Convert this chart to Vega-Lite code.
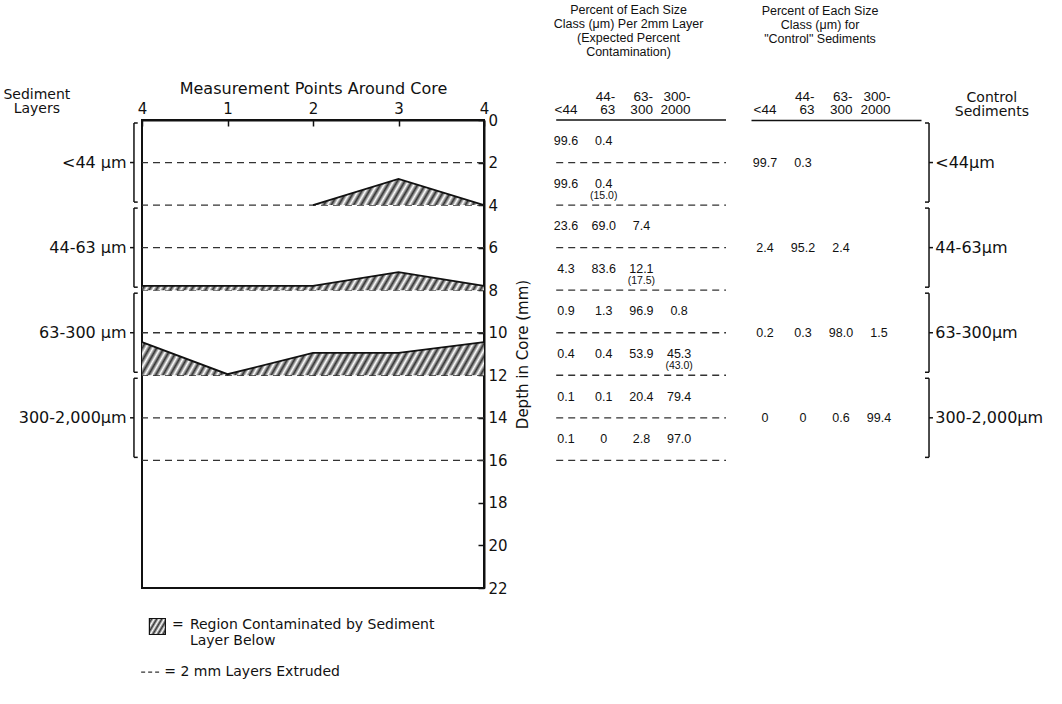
{
  "$schema": "https://vega.github.io/schema/vega-lite/v6.json",
  "background": "white",
  "padding": {"left": 2, "top": 3, "right": 5, "bottom": 5},
  "bounds": "flush",
  "spacing": 25,
  "config": {
    "font": "DejaVu Sans",
    "axis": {"grid": false, "labelColor": "#111", "titleColor": "#111", "domainColor": "#111", "tickColor": "#111"},
    "text": {"color": "#111"},
    "title": {"color": "#111"}
  },
  "datasets": {
    "d2": [{"depth": 2}, {"depth": 4}, {"depth": 6}, {"depth": 8}, {"depth": 10}, {"depth": 12}, {"depth": 14}, {"depth": 16}],
    "contam": [
      {"region": 1, "pos": 2, "depth": 4.0, "base": 4},
      {"region": 1, "pos": 3, "depth": 2.77, "base": 4},
      {"region": 1, "pos": 4, "depth": 4.0, "base": 4},
      {"region": 2, "pos": 0, "depth": 7.8, "base": 8},
      {"region": 2, "pos": 2, "depth": 7.8, "base": 8},
      {"region": 2, "pos": 3, "depth": 7.15, "base": 8},
      {"region": 2, "pos": 4, "depth": 7.8, "base": 8},
      {"region": 3, "pos": 0, "depth": 10.44, "base": 12},
      {"region": 3, "pos": 1, "depth": 11.95, "base": 12},
      {"region": 3, "pos": 2, "depth": 10.95, "base": 12},
      {"region": 3, "pos": 3, "depth": 10.95, "base": 12},
      {"region": 3, "pos": 4, "depth": 10.44, "base": 12}
    ],
    "sed": [
      {"name": "<44 μm", "rname": "<44μm", "start": 0, "end": 4, "mid": 2},
      {"name": "44-63 μm", "rname": "44-63μm", "start": 4, "end": 8, "mid": 6},
      {"name": "63-300 μm", "rname": "63-300μm", "start": 8, "end": 12, "mid": 10},
      {"name": "300-2,000μm", "rname": "300-2,000μm", "start": 12, "end": 16, "mid": 14}
    ],
    "t1": [
      {"depth": 1, "col": 1, "val": "99.6", "exp": ""},
      {"depth": 1, "col": 2, "val": "0.4", "exp": ""},
      {"depth": 3, "col": 1, "val": "99.6", "exp": ""},
      {"depth": 3, "col": 2, "val": "0.4", "exp": "(15.0)"},
      {"depth": 5, "col": 1, "val": "23.6", "exp": ""},
      {"depth": 5, "col": 2, "val": "69.0", "exp": ""},
      {"depth": 5, "col": 3, "val": "7.4", "exp": ""},
      {"depth": 7, "col": 1, "val": "4.3", "exp": ""},
      {"depth": 7, "col": 2, "val": "83.6", "exp": ""},
      {"depth": 7, "col": 3, "val": "12.1", "exp": "(17.5)"},
      {"depth": 9, "col": 1, "val": "0.9", "exp": ""},
      {"depth": 9, "col": 2, "val": "1.3", "exp": ""},
      {"depth": 9, "col": 3, "val": "96.9", "exp": ""},
      {"depth": 9, "col": 4, "val": "0.8", "exp": ""},
      {"depth": 11, "col": 1, "val": "0.4", "exp": ""},
      {"depth": 11, "col": 2, "val": "0.4", "exp": ""},
      {"depth": 11, "col": 3, "val": "53.9", "exp": ""},
      {"depth": 11, "col": 4, "val": "45.3", "exp": "(43.0)"},
      {"depth": 13, "col": 1, "val": "0.1", "exp": ""},
      {"depth": 13, "col": 2, "val": "0.1", "exp": ""},
      {"depth": 13, "col": 3, "val": "20.4", "exp": ""},
      {"depth": 13, "col": 4, "val": "79.4", "exp": ""},
      {"depth": 15, "col": 1, "val": "0.1", "exp": ""},
      {"depth": 15, "col": 2, "val": "0", "exp": ""},
      {"depth": 15, "col": 3, "val": "2.8", "exp": ""},
      {"depth": 15, "col": 4, "val": "97.0", "exp": ""}
    ],
    "t2": [
      {"depth": 2, "col": 1, "val": "99.7"},
      {"depth": 2, "col": 2, "val": "0.3"},
      {"depth": 6, "col": 1, "val": "2.4"},
      {"depth": 6, "col": 2, "val": "95.2"},
      {"depth": 6, "col": 3, "val": "2.4"},
      {"depth": 10, "col": 1, "val": "0.2"},
      {"depth": 10, "col": 2, "val": "0.3"},
      {"depth": 10, "col": 3, "val": "98.0"},
      {"depth": 10, "col": 4, "val": "1.5"},
      {"depth": 14, "col": 1, "val": "0"},
      {"depth": 14, "col": 2, "val": "0"},
      {"depth": 14, "col": 3, "val": "0.6"},
      {"depth": 14, "col": 4, "val": "99.4"}
    ]
  },
  "hconcat": [
    {
      "width": 342,
      "height": 468,
      "view": {"stroke": "#111", "strokeWidth": 2},
      "layer": [
        {
          "data": {"name": "d2"},
          "mark": {"type": "rule", "strokeDash": [7, 5], "stroke": "#333", "strokeWidth": 1.3},
          "encoding": {
            "y": {
              "field": "depth", "type": "quantitative",
              "scale": {"domain": [0, 22], "reverse": true, "nice": false, "zero": false},
              "axis": {"orient": "right", "values": [0, 2, 4, 6, 8, 10, 12, 14, 16, 18, 20, 22], "title": "Depth in Core (mm)", "titleAngle": 270, "titleBaseline": "top", "titleFontSize": 15, "titleFontWeight": "normal", "titlePadding": 8, "labelFontSize": 15, "labelPadding": 10, "tickSize": -6, "tickWidth": 1.5, "domainWidth": 2, "labelFlush": false}
            }
          }
        },
        {
          "data": {"name": "contam"},
          "transform": [{"filter": "datum.region == 1"}],
          "mark": {"type": "area", "fill": {"gradient": "linear", "x1": 0, "y1": 0, "x2": 1.081, "y2": 0.097, "stops": [{"offset":0,"color":"#fff"},{"offset":0.02,"color":"#333"},{"offset":0.04,"color":"#fff"},{"offset":0.06,"color":"#333"},{"offset":0.08,"color":"#fff"},{"offset":0.1,"color":"#333"},{"offset":0.12,"color":"#fff"},{"offset":0.14,"color":"#333"},{"offset":0.16,"color":"#fff"},{"offset":0.18,"color":"#333"},{"offset":0.2,"color":"#fff"},{"offset":0.22,"color":"#333"},{"offset":0.24,"color":"#fff"},{"offset":0.26,"color":"#333"},{"offset":0.28,"color":"#fff"},{"offset":0.3,"color":"#333"},{"offset":0.32,"color":"#fff"},{"offset":0.34,"color":"#333"},{"offset":0.36,"color":"#fff"},{"offset":0.38,"color":"#333"},{"offset":0.4,"color":"#fff"},{"offset":0.42,"color":"#333"},{"offset":0.44,"color":"#fff"},{"offset":0.46,"color":"#333"},{"offset":0.48,"color":"#fff"},{"offset":0.5,"color":"#333"},{"offset":0.52,"color":"#fff"},{"offset":0.54,"color":"#333"},{"offset":0.56,"color":"#fff"},{"offset":0.58,"color":"#333"},{"offset":0.6,"color":"#fff"},{"offset":0.62,"color":"#333"},{"offset":0.64,"color":"#fff"},{"offset":0.66,"color":"#333"},{"offset":0.68,"color":"#fff"},{"offset":0.7,"color":"#333"},{"offset":0.72,"color":"#fff"},{"offset":0.74,"color":"#333"},{"offset":0.76,"color":"#fff"},{"offset":0.78,"color":"#333"},{"offset":0.8,"color":"#fff"},{"offset":0.82,"color":"#333"},{"offset":0.84,"color":"#fff"},{"offset":0.86,"color":"#333"},{"offset":0.88,"color":"#fff"},{"offset":0.9,"color":"#333"},{"offset":0.92,"color":"#fff"},{"offset":0.94,"color":"#333"},{"offset":0.96,"color":"#fff"},{"offset":0.98,"color":"#333"},{"offset":1,"color":"#fff"}]}},
          "encoding": {
            "x": {
              "field": "pos", "type": "quantitative",
              "scale": {"domain": [0, 4], "nice": false, "zero": false},
              "axis": {"orient": "top", "values": [0, 1, 2, 3, 4], "labelExpr": "datum.value == 0 || datum.value == 4 ? '4' : format(datum.value, 'd')", "title": "Measurement Points Around Core", "titleFontSize": 16, "titleFontWeight": "normal", "titlePadding": 5, "labelFontSize": 15, "labelPadding": 10, "labelFlush": false, "tickSize": -6, "tickWidth": 1.5, "domainWidth": 2}
            },
            "y": {"field": "depth", "type": "quantitative"},
            "y2": {"field": "base"}
          }
        },
        {
          "data": {"name": "contam"},
          "transform": [{"filter": "datum.region == 2"}],
          "mark": {"type": "area", "fill": {"gradient": "linear", "x1": 0, "y1": 0, "x2": 1.029, "y2": 0.032, "stops": [{"offset":0,"color":"#fff"},{"offset":0.01,"color":"#333"},{"offset":0.02,"color":"#fff"},{"offset":0.03,"color":"#333"},{"offset":0.04,"color":"#fff"},{"offset":0.05,"color":"#333"},{"offset":0.06,"color":"#fff"},{"offset":0.07,"color":"#333"},{"offset":0.08,"color":"#fff"},{"offset":0.09,"color":"#333"},{"offset":0.1,"color":"#fff"},{"offset":0.11,"color":"#333"},{"offset":0.12,"color":"#fff"},{"offset":0.13,"color":"#333"},{"offset":0.14,"color":"#fff"},{"offset":0.15,"color":"#333"},{"offset":0.16,"color":"#fff"},{"offset":0.17,"color":"#333"},{"offset":0.18,"color":"#fff"},{"offset":0.19,"color":"#333"},{"offset":0.2,"color":"#fff"},{"offset":0.21,"color":"#333"},{"offset":0.22,"color":"#fff"},{"offset":0.23,"color":"#333"},{"offset":0.24,"color":"#fff"},{"offset":0.25,"color":"#333"},{"offset":0.26,"color":"#fff"},{"offset":0.27,"color":"#333"},{"offset":0.28,"color":"#fff"},{"offset":0.29,"color":"#333"},{"offset":0.3,"color":"#fff"},{"offset":0.31,"color":"#333"},{"offset":0.32,"color":"#fff"},{"offset":0.33,"color":"#333"},{"offset":0.34,"color":"#fff"},{"offset":0.35,"color":"#333"},{"offset":0.36,"color":"#fff"},{"offset":0.37,"color":"#333"},{"offset":0.38,"color":"#fff"},{"offset":0.39,"color":"#333"},{"offset":0.4,"color":"#fff"},{"offset":0.41,"color":"#333"},{"offset":0.42,"color":"#fff"},{"offset":0.43,"color":"#333"},{"offset":0.44,"color":"#fff"},{"offset":0.45,"color":"#333"},{"offset":0.46,"color":"#fff"},{"offset":0.47,"color":"#333"},{"offset":0.48,"color":"#fff"},{"offset":0.49,"color":"#333"},{"offset":0.5,"color":"#fff"},{"offset":0.51,"color":"#333"},{"offset":0.52,"color":"#fff"},{"offset":0.53,"color":"#333"},{"offset":0.54,"color":"#fff"},{"offset":0.55,"color":"#333"},{"offset":0.56,"color":"#fff"},{"offset":0.57,"color":"#333"},{"offset":0.58,"color":"#fff"},{"offset":0.59,"color":"#333"},{"offset":0.6,"color":"#fff"},{"offset":0.61,"color":"#333"},{"offset":0.62,"color":"#fff"},{"offset":0.63,"color":"#333"},{"offset":0.64,"color":"#fff"},{"offset":0.65,"color":"#333"},{"offset":0.66,"color":"#fff"},{"offset":0.67,"color":"#333"},{"offset":0.68,"color":"#fff"},{"offset":0.69,"color":"#333"},{"offset":0.7,"color":"#fff"},{"offset":0.71,"color":"#333"},{"offset":0.72,"color":"#fff"},{"offset":0.73,"color":"#333"},{"offset":0.74,"color":"#fff"},{"offset":0.75,"color":"#333"},{"offset":0.76,"color":"#fff"},{"offset":0.77,"color":"#333"},{"offset":0.78,"color":"#fff"},{"offset":0.79,"color":"#333"},{"offset":0.8,"color":"#fff"},{"offset":0.81,"color":"#333"},{"offset":0.82,"color":"#fff"},{"offset":0.83,"color":"#333"},{"offset":0.84,"color":"#fff"},{"offset":0.85,"color":"#333"},{"offset":0.86,"color":"#fff"},{"offset":0.87,"color":"#333"},{"offset":0.88,"color":"#fff"},{"offset":0.89,"color":"#333"},{"offset":0.9,"color":"#fff"},{"offset":0.91,"color":"#333"},{"offset":0.92,"color":"#fff"},{"offset":0.93,"color":"#333"},{"offset":0.94,"color":"#fff"},{"offset":0.95,"color":"#333"},{"offset":0.96,"color":"#fff"},{"offset":0.97,"color":"#333"},{"offset":0.98,"color":"#fff"},{"offset":0.99,"color":"#333"},{"offset":1,"color":"#fff"}]}},
          "encoding": {
            "x": {"field": "pos", "type": "quantitative"},
            "y": {"field": "depth", "type": "quantitative"},
            "y2": {"field": "base"}
          }
        },
        {
          "data": {"name": "contam"},
          "transform": [{"filter": "datum.region == 3"}],
          "mark": {"type": "area", "fill": {"gradient": "linear", "x1": 0, "y1": 0, "x2": 1.052, "y2": 0.058, "stops": [{"offset":0,"color":"#fff"},{"offset":0.01,"color":"#333"},{"offset":0.02,"color":"#fff"},{"offset":0.03,"color":"#333"},{"offset":0.04,"color":"#fff"},{"offset":0.05,"color":"#333"},{"offset":0.06,"color":"#fff"},{"offset":0.07,"color":"#333"},{"offset":0.08,"color":"#fff"},{"offset":0.09,"color":"#333"},{"offset":0.1,"color":"#fff"},{"offset":0.11,"color":"#333"},{"offset":0.12,"color":"#fff"},{"offset":0.13,"color":"#333"},{"offset":0.14,"color":"#fff"},{"offset":0.15,"color":"#333"},{"offset":0.16,"color":"#fff"},{"offset":0.17,"color":"#333"},{"offset":0.18,"color":"#fff"},{"offset":0.19,"color":"#333"},{"offset":0.2,"color":"#fff"},{"offset":0.21,"color":"#333"},{"offset":0.22,"color":"#fff"},{"offset":0.23,"color":"#333"},{"offset":0.24,"color":"#fff"},{"offset":0.25,"color":"#333"},{"offset":0.26,"color":"#fff"},{"offset":0.27,"color":"#333"},{"offset":0.28,"color":"#fff"},{"offset":0.29,"color":"#333"},{"offset":0.3,"color":"#fff"},{"offset":0.31,"color":"#333"},{"offset":0.32,"color":"#fff"},{"offset":0.33,"color":"#333"},{"offset":0.34,"color":"#fff"},{"offset":0.35,"color":"#333"},{"offset":0.36,"color":"#fff"},{"offset":0.37,"color":"#333"},{"offset":0.38,"color":"#fff"},{"offset":0.39,"color":"#333"},{"offset":0.4,"color":"#fff"},{"offset":0.41,"color":"#333"},{"offset":0.42,"color":"#fff"},{"offset":0.43,"color":"#333"},{"offset":0.44,"color":"#fff"},{"offset":0.45,"color":"#333"},{"offset":0.46,"color":"#fff"},{"offset":0.47,"color":"#333"},{"offset":0.48,"color":"#fff"},{"offset":0.49,"color":"#333"},{"offset":0.5,"color":"#fff"},{"offset":0.51,"color":"#333"},{"offset":0.52,"color":"#fff"},{"offset":0.53,"color":"#333"},{"offset":0.54,"color":"#fff"},{"offset":0.55,"color":"#333"},{"offset":0.56,"color":"#fff"},{"offset":0.57,"color":"#333"},{"offset":0.58,"color":"#fff"},{"offset":0.59,"color":"#333"},{"offset":0.6,"color":"#fff"},{"offset":0.61,"color":"#333"},{"offset":0.62,"color":"#fff"},{"offset":0.63,"color":"#333"},{"offset":0.64,"color":"#fff"},{"offset":0.65,"color":"#333"},{"offset":0.66,"color":"#fff"},{"offset":0.67,"color":"#333"},{"offset":0.68,"color":"#fff"},{"offset":0.69,"color":"#333"},{"offset":0.7,"color":"#fff"},{"offset":0.71,"color":"#333"},{"offset":0.72,"color":"#fff"},{"offset":0.73,"color":"#333"},{"offset":0.74,"color":"#fff"},{"offset":0.75,"color":"#333"},{"offset":0.76,"color":"#fff"},{"offset":0.77,"color":"#333"},{"offset":0.78,"color":"#fff"},{"offset":0.79,"color":"#333"},{"offset":0.8,"color":"#fff"},{"offset":0.81,"color":"#333"},{"offset":0.82,"color":"#fff"},{"offset":0.83,"color":"#333"},{"offset":0.84,"color":"#fff"},{"offset":0.85,"color":"#333"},{"offset":0.86,"color":"#fff"},{"offset":0.87,"color":"#333"},{"offset":0.88,"color":"#fff"},{"offset":0.89,"color":"#333"},{"offset":0.9,"color":"#fff"},{"offset":0.91,"color":"#333"},{"offset":0.92,"color":"#fff"},{"offset":0.93,"color":"#333"},{"offset":0.94,"color":"#fff"},{"offset":0.95,"color":"#333"},{"offset":0.96,"color":"#fff"},{"offset":0.97,"color":"#333"},{"offset":0.98,"color":"#fff"},{"offset":0.99,"color":"#333"},{"offset":1,"color":"#fff"}]}},
          "encoding": {
            "x": {"field": "pos", "type": "quantitative"},
            "y": {"field": "depth", "type": "quantitative"},
            "y2": {"field": "base"}
          }
        },
        {
          "data": {"name": "contam"},
          "mark": {"type": "line", "stroke": "#111", "strokeWidth": 1.8},
          "encoding": {
            "x": {"field": "pos", "type": "quantitative"},
            "y": {"field": "depth", "type": "quantitative"},
            "detail": {"field": "region", "type": "nominal"}
          }
        },
        {
          "data": {"name": "sed"},
          "mark": {"type": "rule", "stroke": "#111", "strokeWidth": 1.5, "yOffset": 3, "y2Offset": -3},
          "encoding": {
            "x": {"datum": -0.094, "type": "quantitative"},
            "y": {"field": "start", "type": "quantitative"},
            "y2": {"field": "end"}
          }
        },
        {
          "data": {"name": "sed"},
          "mark": {"type": "rule", "stroke": "#111", "strokeWidth": 1.5, "yOffset": 3},
          "encoding": {
            "x": {"datum": -0.094, "type": "quantitative"},
            "x2": {"datum": -0.05},
            "y": {"field": "start", "type": "quantitative"}
          }
        },
        {
          "data": {"name": "sed"},
          "mark": {"type": "rule", "stroke": "#111", "strokeWidth": 1.5, "yOffset": -3},
          "encoding": {
            "x": {"datum": -0.094, "type": "quantitative"},
            "x2": {"datum": -0.05},
            "y": {"field": "end", "type": "quantitative"}
          }
        },
        {
          "data": {"name": "sed"},
          "mark": {"type": "rule", "stroke": "#111", "strokeWidth": 1.5},
          "encoding": {
            "x": {"datum": -0.14, "type": "quantitative"},
            "x2": {"datum": -0.094},
            "y": {"field": "mid", "type": "quantitative"}
          }
        },
        {
          "data": {"name": "sed"},
          "mark": {"type": "text", "align": "right", "baseline": "middle", "fontSize": 16},
          "encoding": {
            "x": {"datum": -0.18, "type": "quantitative"},
            "y": {"field": "mid", "type": "quantitative"},
            "text": {"field": "name"}
          }
        },
        {
          "data": {"values": [{"label": "Sediment|Layers"}]},
          "mark": {"type": "text", "align": "center", "baseline": "bottom", "fontSize": 14, "lineBreak": "|", "lineHeight": 14},
          "encoding": {
            "x": {"datum": -1.23, "type": "quantitative"},
            "y": {"datum": -0.86, "type": "quantitative"},
            "text": {"field": "label"}
          }
        },
        {
          "data": {"values": [{"label": "hatch"}]},
          "mark": {"type": "point", "shape": "square", "size": 256, "filled": true, "opacity": 1, "stroke": "#111", "strokeWidth": 1.2, "fill": {"gradient": "linear", "x1": 0, "y1": 0, "x2": 1.18, "y2": 0.696, "stops": [{"offset":0,"color":"#fff"},{"offset":0.1,"color":"#333"},{"offset":0.2,"color":"#fff"},{"offset":0.3,"color":"#333"},{"offset":0.4,"color":"#fff"},{"offset":0.5,"color":"#333"},{"offset":0.6,"color":"#fff"},{"offset":0.7,"color":"#333"},{"offset":0.8,"color":"#fff"},{"offset":0.9,"color":"#333"},{"offset":1,"color":"#fff"}]}},
          "encoding": {
            "x": {"datum": 0.18, "type": "quantitative"},
            "y": {"datum": 23.81, "type": "quantitative"}
          }
        },
        {
          "data": {"values": [{"label": "="}]},
          "mark": {"type": "text", "align": "left", "baseline": "middle", "fontSize": 14},
          "encoding": {
            "x": {"datum": 0.35, "type": "quantitative"},
            "y": {"datum": 23.72, "type": "quantitative"},
            "text": {"field": "label"}
          }
        },
        {
          "data": {"values": [{"label": "Region Contaminated by Sediment"}]},
          "mark": {"type": "text", "align": "left", "baseline": "middle", "fontSize": 14},
          "encoding": {
            "x": {"datum": 0.56, "type": "quantitative"},
            "y": {"datum": 23.72, "type": "quantitative"},
            "text": {"field": "label"}
          }
        },
        {
          "data": {"values": [{"label": "Layer Below"}]},
          "mark": {"type": "text", "align": "left", "baseline": "middle", "fontSize": 14},
          "encoding": {
            "x": {"datum": 0.56, "type": "quantitative"},
            "y": {"datum": 24.5, "type": "quantitative"},
            "text": {"field": "label"}
          }
        },
        {
          "data": {"values": [{"label": "dash"}]},
          "mark": {"type": "rule", "stroke": "#333", "strokeWidth": 1.2, "strokeDash": [4, 3]},
          "encoding": {
            "x": {"datum": -0.01, "type": "quantitative"},
            "x2": {"datum": 0.2},
            "y": {"datum": 25.95, "type": "quantitative"}
          }
        },
        {
          "data": {"values": [{"label": "= 2 mm Layers Extruded"}]},
          "mark": {"type": "text", "align": "left", "baseline": "middle", "fontSize": 14},
          "encoding": {
            "x": {"datum": 0.26, "type": "quantitative"},
            "y": {"datum": 25.95, "type": "quantitative"},
            "text": {"field": "label"}
          }
        }
      ]
    },
    {
      "width": 217,
      "height": 468,
      "view": {"stroke": null},
      "title": {"text": ["Percent of Each Size", "Class (μm) Per 2mm Layer", "(Expected Percent", "Contamination)"], "font": "Liberation Sans", "fontSize": 12.5, "fontWeight": "normal", "lineHeight": 14, "offset": 31, "dx": 11, "anchor": "middle", "frame": "group"},
      "layer": [
        {
          "data": {"name": "d2"},
          "mark": {"type": "rule", "strokeDash": [7, 5], "stroke": "#333", "strokeWidth": 1.3},
          "encoding": {
            "x": {"datum": 0.74, "type": "quantitative"},
            "x2": {"datum": 5.244},
            "y": {"field": "depth", "type": "quantitative", "scale": {"domain": [0, 22], "reverse": true, "nice": false, "zero": false}, "axis": null}
          }
        },
        {
          "data": {"values": [{"label": "underline"}]},
          "mark": {"type": "rule", "stroke": "#111", "strokeWidth": 1.6},
          "encoding": {
            "x": {"datum": 0.74, "type": "quantitative"},
            "x2": {"datum": 5.244},
            "y": {"datum": 0, "type": "quantitative"}
          }
        },
        {
          "data": {"name": "t1"},
          "mark": {"type": "text", "align": "center", "baseline": "middle", "font": "Liberation Sans", "fontSize": 12.5},
          "encoding": {
            "x": {
              "field": "col", "type": "quantitative",
              "scale": {"domain": [-0.512, 5.244], "nice": false, "zero": false},
              "axis": {"orient": "top", "values": [1, 2, 3, 4], "labelExpr": "datum.value == 1 ? ['', '<44'] : datum.value == 2 ? ['44-', '63'] : datum.value == 3 ? ['63-', '300'] : ['300-', '2000']", "domain": false, "ticks": false, "tickSize": 0, "title": null, "labelFont": "Liberation Sans", "labelFontSize": 13.5, "labelAlign": "right", "labelOffset": 11, "labelPadding": 17, "labelLineHeight": 13, "labelFlush": false, "labelOverlap": false}
            },
            "y": {"field": "depth", "type": "quantitative"},
            "text": {"field": "val"}
          }
        },
        {
          "data": {"name": "t1"},
          "transform": [{"filter": "datum.exp != ''"}],
          "mark": {"type": "text", "align": "center", "baseline": "middle", "font": "Liberation Sans", "fontSize": 10.5, "dy": 12},
          "encoding": {
            "x": {"field": "col", "type": "quantitative"},
            "y": {"field": "depth", "type": "quantitative"},
            "text": {"field": "exp"}
          }
        }
      ]
    },
    {
      "width": 170,
      "height": 468,
      "view": {"stroke": null},
      "title": {"text": ["Percent of Each Size", "Class (μm) for", "\"Control\" Sediments"], "font": "Liberation Sans", "fontSize": 12.5, "fontWeight": "normal", "lineHeight": 14, "offset": 44, "dx": -16, "anchor": "middle", "frame": "group"},
      "layer": [
        {
          "data": {"name": "t2"},
          "mark": {"type": "text", "align": "center", "baseline": "middle", "font": "Liberation Sans", "fontSize": 12.5},
          "encoding": {
            "x": {
              "field": "col", "type": "quantitative",
              "scale": {"domain": [0.632, 5.105], "nice": false, "zero": false},
              "axis": {"orient": "top", "values": [1, 2, 3, 4], "labelExpr": "datum.value == 1 ? ['', '<44'] : datum.value == 2 ? ['44-', '63'] : datum.value == 3 ? ['63-', '300'] : ['300-', '2000']", "domain": true, "domainWidth": 1.6, "ticks": false, "tickSize": 0, "title": null, "labelFont": "Liberation Sans", "labelFontSize": 13.5, "labelAlign": "right", "labelOffset": 11, "labelPadding": 17, "labelLineHeight": 13, "labelFlush": false, "labelOverlap": false}
            },
            "y": {"field": "depth", "type": "quantitative", "scale": {"domain": [0, 22], "reverse": true, "nice": false, "zero": false}, "axis": null},
            "text": {"field": "val"}
          }
        },
        {
          "data": {"name": "sed"},
          "mark": {"type": "rule", "stroke": "#111", "strokeWidth": 1.5, "yOffset": 3, "y2Offset": -3},
          "encoding": {
            "x": {"datum": 5.316, "type": "quantitative"},
            "y": {"field": "start", "type": "quantitative"},
            "y2": {"field": "end"}
          }
        },
        {
          "data": {"name": "sed"},
          "mark": {"type": "rule", "stroke": "#111", "strokeWidth": 1.5, "yOffset": 3},
          "encoding": {
            "x": {"datum": 5.21, "type": "quantitative"},
            "x2": {"datum": 5.316},
            "y": {"field": "start", "type": "quantitative"}
          }
        },
        {
          "data": {"name": "sed"},
          "mark": {"type": "rule", "stroke": "#111", "strokeWidth": 1.5, "yOffset": -3},
          "encoding": {
            "x": {"datum": 5.21, "type": "quantitative"},
            "x2": {"datum": 5.316},
            "y": {"field": "end", "type": "quantitative"}
          }
        },
        {
          "data": {"name": "sed"},
          "mark": {"type": "rule", "stroke": "#111", "strokeWidth": 1.5},
          "encoding": {
            "x": {"datum": 5.316, "type": "quantitative"},
            "x2": {"datum": 5.42},
            "y": {"field": "mid", "type": "quantitative"}
          }
        },
        {
          "data": {"name": "sed"},
          "mark": {"type": "text", "align": "left", "baseline": "middle", "fontSize": 16},
          "encoding": {
            "x": {"datum": 5.48, "type": "quantitative"},
            "y": {"field": "mid", "type": "quantitative"},
            "text": {"field": "rname"}
          }
        },
        {
          "data": {"values": [{"label": "Control|Sediments"}]},
          "mark": {"type": "text", "align": "center", "baseline": "bottom", "fontSize": 14, "lineBreak": "|", "lineHeight": 14},
          "encoding": {
            "x": {"datum": 6.97, "type": "quantitative"},
            "y": {"datum": -0.72, "type": "quantitative"},
            "text": {"field": "label"}
          }
        }
      ]
    }
  ]
}
